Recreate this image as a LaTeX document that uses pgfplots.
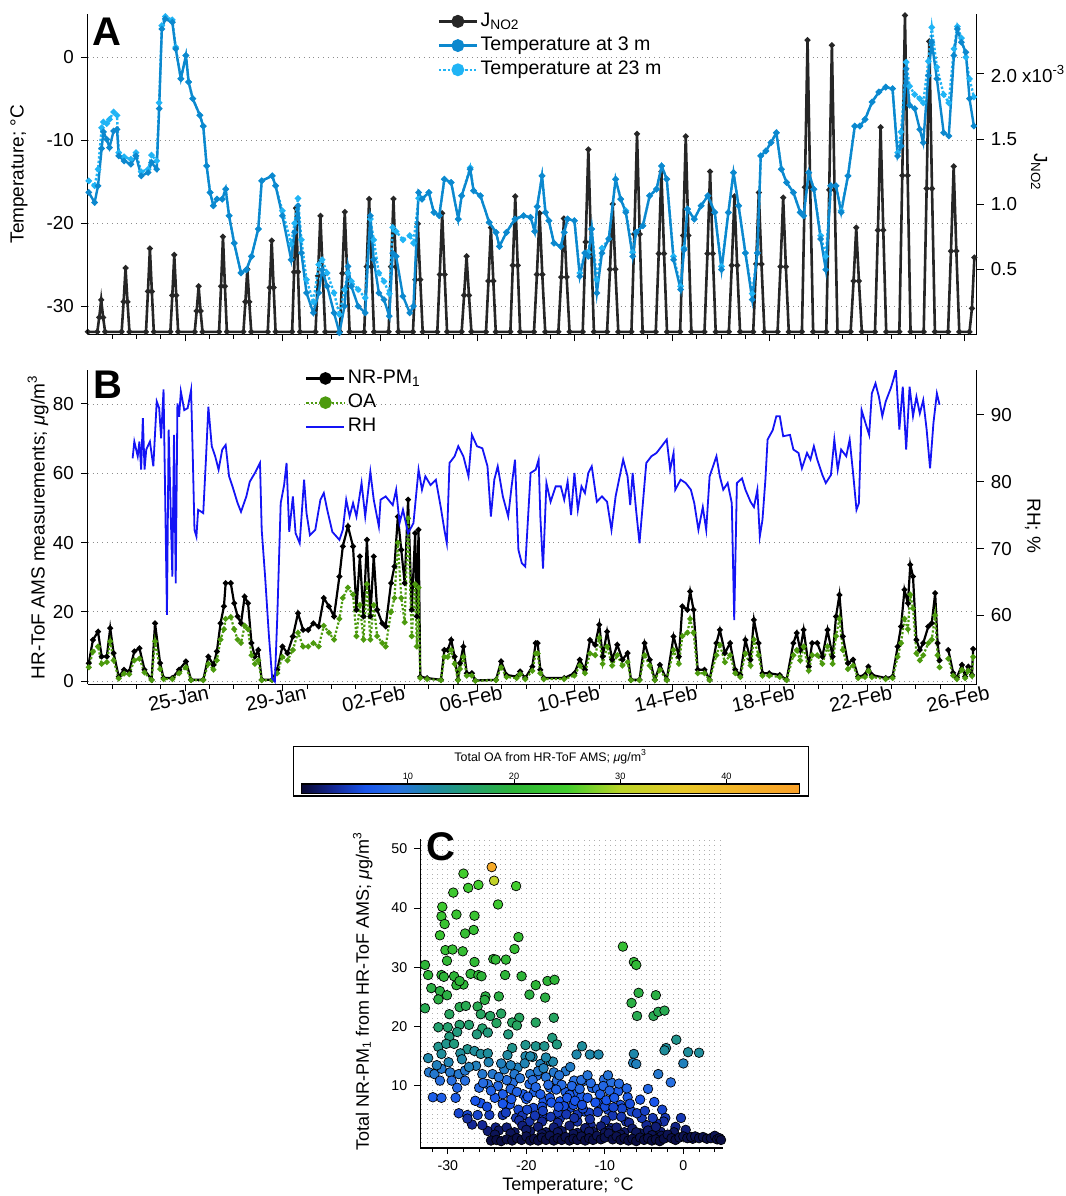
\documentclass[border=0pt]{standalone}
\usepackage{fontspec}
\setmainfont{Liberation Sans}
\usepackage{pgfplots}
\pgfplotsset{compat=1.18}

\definecolor{jcol}{RGB}{38,38,38}
\definecolor{t3col}{RGB}{12,136,206}
\definecolor{t23col}{RGB}{32,180,245}
\definecolor{oacol}{RGB}{76,154,14}
\definecolor{rhcol}{RGB}{20,20,245}
\definecolor{gridcol}{RGB}{140,140,140}
\definecolor{sgridcol}{RGB}{175,175,175}

\pgfplotsset{
  colormap={oa}{rgb255(0cm)=(8,8,50) rgb255(3cm)=(20,40,150) rgb255(6cm)=(25,85,235)
    rgb255(9cm)=(40,112,225) rgb255(12cm)=(30,135,170) rgb255(16cm)=(35,160,110)
    rgb255(20cm)=(45,180,55) rgb255(25cm)=(65,205,45) rgb255(30cm)=(185,212,40)
    rgb255(36cm)=(232,200,40) rgb255(41cm)=(242,180,40) rgb255(47cm)=(250,160,40)},
  panel/.style={scale only axis, width=444.5pt, xmin=0, xmax=36.5, anchor=south west,
    tick align=outside, major tick length=3.5pt, minor tick length=2.2pt,
    tick style={black, line width=0.5pt}, axis line style={-, line width=0.6pt},
    tick label style={font=\fontsize{9.4}{11}\selectfont},
    label style={font=\fontsize{9.5}{11}\selectfont},
    /pgf/number format/assume math mode=true},
  leg/.style={legend cell align=left,
    legend image code/.code={\draw[mark repeat=2,mark phase=2,##1] plot coordinates {(0pt,0pt) (9.5pt,0pt) (19pt,0pt)};},
    legend style={draw=none, fill=none, font=\fontsize{9.8}{11}\selectfont, row sep=0pt, inner sep=0pt,
      nodes={inner sep=1.2pt, text height=7.3pt, text depth=2.4pt}}},
  jstyle/.style={color=jcol, line width=1.3pt, mark=*, mark size=0.7pt},
  t3style/.style={color=t3col, line width=1.2pt, mark=*, mark size=0.9pt},
  t23style/.style={color=t23col, line width=1.2pt, densely dotted, mark=*, mark size=0.9pt, mark options={solid}},
  pmstyle/.style={color=black, line width=1.1pt, mark=*, mark size=0.8pt},
  oastyle/.style={color=oacol, line width=1.1pt, densely dotted, mark=*, mark size=0.8pt, mark options={solid}},
  rhstyle/.style={color=rhcol, line width=0.9pt},
}

\begin{document}
\begin{tikzpicture}
\path[use as bounding box] (0,0) rectangle (533pt,-598pt);

% ---------------- panel A: grid
\begin{axis}[panel, at={(43.9pt,-167.2pt)}, height=160.2pt, ymin=-33.4, ymax=5.2,
  ytick={-30,-20,-10,0}, yticklabels={}, xtick=\empty, ymajorgrids,
  grid style={dotted, gridcol, line width=0.4pt}, axis line style={draw=none}, major tick length=0pt]
\addplot[draw=none] coordinates {(1,0)};
\end{axis}

% ---------------- panel A: J_NO2 (right axis)
\begin{axis}[panel, at={(43.9pt,-167.2pt)}, height=160.2pt, ymin=0, ymax=2.46,
  axis x line*=bottom, axis y line*=right,
  xtick={4,8,...,36}, xticklabels={}, minor xtick={1,...,36},
  ytick={0.5,1,1.5,2}, yticklabels={0.5,1.0,1.5,{2.0 x10\textsuperscript{-3}}},
  ylabel={J\textsubscript{NO2}},
  ylabel style={at={(axis description cs:1.070,0.507)}, anchor=center, rotate=180}]
\addplot[jstyle] coordinates {
(0,0.02) (0.39,0.02) (0.47,0.13) (0.55,0.265) (0.63,0.13) (0.71,0.02)
(1.39,0.02) (1.47,0.25) (1.55,0.51) (1.63,0.25) (1.71,0.02)
(2.39,0.02) (2.47,0.33) (2.55,0.66) (2.63,0.33) (2.71,0.02)
(3.39,0.02) (3.47,0.30) (3.55,0.61) (3.63,0.30) (3.71,0.02)
(4.39,0.02) (4.47,0.18) (4.55,0.37) (4.63,0.18) (4.71,0.02)
(5.39,0.02) (5.47,0.37) (5.55,0.75) (5.63,0.37) (5.71,0.02)
(6.39,0.02) (6.47,0.25) (6.55,0.50) (6.63,0.25) (6.71,0.02)
(7.39,0.02) (7.47,0.36) (7.55,0.72) (7.63,0.36) (7.71,0.02)
(8.39,0.02) (8.47,0.48) (8.55,0.97) (8.63,0.48) (8.71,0.02)
(9.35,0.02) (9.45,0.45) (9.55,0.91) (9.65,0.45) (9.75,0.02)
(10.35,0.02) (10.45,0.47) (10.55,0.94) (10.65,0.47) (10.75,0.02)
(11.35,0.02) (11.45,0.52) (11.55,1.04) (11.65,0.52) (11.75,0.02)
(12.35,0.02) (12.45,0.52) (12.55,1.04) (12.65,0.52) (12.75,0.02)
(13.35,0.02) (13.45,0.42) (13.55,0.85) (13.65,0.42) (13.75,0.02)
(14.35,0.02) (14.45,0.46) (14.55,0.93) (14.65,0.46) (14.75,0.02)
(15.35,0.02) (15.45,0.30) (15.55,0.60) (15.65,0.30) (15.75,0.02)
(16.35,0.02) (16.45,0.41) (16.55,0.82) (16.65,0.41) (16.75,0.02)
(17.35,0.02) (17.45,0.53) (17.55,1.06) (17.65,0.53) (17.75,0.02)
(18.32,0.02) (18.44,0.46) (18.55,0.93) (18.66,0.46) (18.78,0.02)
(19.32,0.02) (19.44,0.44) (19.55,0.89) (19.66,0.44) (19.78,0.02)
(20.32,0.02) (20.44,0.71) (20.55,1.42) (20.66,0.71) (20.78,0.02)
(21.32,0.02) (21.44,0.50) (21.55,1.00) (21.66,0.50) (21.78,0.02)
(22.32,0.02) (22.44,0.77) (22.55,1.54) (22.66,0.77) (22.78,0.02)
(23.32,0.02) (23.44,0.62) (23.55,1.25) (23.66,0.62) (23.78,0.02)
(24.32,0.02) (24.44,0.76) (24.55,1.52) (24.66,0.76) (24.78,0.02)
(25.32,0.02) (25.44,0.62) (25.55,1.25) (25.66,0.62) (25.78,0.02)
(26.32,0.02) (26.44,0.53) (26.55,1.06) (26.66,0.53) (26.78,0.02)
(27.32,0.02) (27.44,0.54) (27.55,1.09) (27.66,0.54) (27.78,0.02)
(28.32,0.02) (28.44,0.52) (28.55,1.05) (28.66,0.52) (28.78,0.02)
(29.32,0.02) (29.44,1.13) (29.55,2.26) (29.66,1.13) (29.78,0.02)
(30.32,0.02) (30.44,1.11) (30.55,2.22) (30.66,1.11) (30.78,0.02)
(31.32,0.02) (31.44,0.41) (31.55,0.82) (31.66,0.41) (31.78,0.02)
(32.32,0.02) (32.44,0.80) (32.55,1.59) (32.66,0.80) (32.78,0.02)
(33.32,0.02) (33.44,1.22) (33.55,2.45) (33.66,1.22) (33.78,0.02)
(34.32,0.02) (34.44,1.12) (34.55,2.25) (34.66,1.12) (34.78,0.02)
(35.32,0.02) (35.44,0.64) (35.55,1.29) (35.66,0.64) (35.78,0.02)
(36.2,0.02) (36.3,0.20) (36.4,0.59)
};
\end{axis}

% ---------------- panel A: temperatures (left axis)
\begin{axis}[panel, leg, at={(43.9pt,-167.2pt)}, height=160.2pt, ymin=-33.4, ymax=5.2,
  axis x line=none, axis y line*=left, ytick={-30,-20,-10,0},
  ylabel={Temperature; °C},
  ylabel style={at={(axis description cs:-0.0774,0.5)}, anchor=center},
  legend style={at={(axis description cs:0.393,1.016)}, anchor=north west}]
\addlegendimage{jstyle, mark size=2.6pt}
\addlegendentry{J\textsubscript{NO2}}
\addlegendimage{t3style, mark size=2.6pt}
\addlegendentry{Temperature at 3 m}
\addlegendimage{t23style, mark size=2.6pt}
\addlegendentry{Temperature at 23 m}
% Temperature at 23 m
\addplot[t23style, forget plot] coordinates {
(0.04,-14.9) (0.28,-15.5) (0.42,-13.5) (0.57,-8.5) (0.64,-7.8) (0.78,-8) (0.89,-7.5) (1.06,-6.6)
(1.2,-7) (1.27,-11.5) (1.49,-12) (1.77,-12.3) (1.98,-11.5) (2.19,-13.8) (2.48,-13.5) (2.62,-11.8)
(2.83,-12.5) (2.93,-5.5) (3.04,3.8) (3.18,4.9) (3.47,4.5) (3.61,1.2) (3.82,-2.6) (4.03,0.2)
(4.14,-3) (4.31,-5) (4.6,-7) (4.74,-8.3) (4.88,-13.1) (5.02,-16.3) (5.16,-17.9) (5.3,-17.1)
(5.52,-17.1) (5.66,-15.9) (5.8,-19.1) (6.01,-22.4) (6.29,-26) (6.51,-25.6) (6.72,-24) (7.0,-20.7)
(7.14,-14.9) (7.57,-14.3) (7.71,-15.5) (7.99,-18.5) (8.35,-22.5) (8.49,-20) (8.63,-17) (8.77,-22)
(8.98,-26.8) (9.26,-29.5) (9.48,-25) (9.62,-24.4) (9.83,-26) (10.11,-28.4) (10.33,-31) (10.54,-28)
(10.68,-26) (10.82,-27) (11.1,-28) (11.39,-29) (11.6,-19.5) (11.74,-22) (11.95,-26) (12.16,-27)
(12.38,-28.5) (12.52,-20.5) (12.66,-21) (12.94,-22) (13.22,-21.5) (13.37,-22.4) (13.58,-17) (13.72,-17.1)
(14.0,-16.3) (14.21,-18.7) (14.43,-19.1) (14.64,-14.7) (14.92,-15.1) (15.21,-19.5) (15.35,-16.7) (15.7,-13.3)
(15.84,-16.1) (16.12,-16.7) (16.48,-19.9) (16.76,-21.1) (16.9,-22.8) (17.19,-21.1) (17.54,-19.5) (17.89,-19.1)
(18.18,-19.3) (18.35,-21) (18.45,-18) (18.65,-14.3) (18.79,-18.7) (18.93,-19.7) (19.14,-22.4) (19.42,-22.8)
(19.56,-21.1) (19.7,-19.5) (19.98,-19.7) (20.2,-26) (20.41,-23.6) (20.55,-23.5) (20.69,-20.7) (20.9,-26.8)
(21.11,-23) (21.39,-21.9) (21.67,-14.7) (21.88,-17.1) (22.09,-18.5) (22.37,-23.5) (22.51,-21.1) (22.79,-20.3)
(23.07,-16.7) (23.35,-15.9) (23.56,-13.1) (23.77,-14.7) (24.05,-24) (24.34,-27.6) (24.48,-23) (24.62,-18.3)
(24.9,-19.5) (25.18,-17.9) (25.46,-16.7) (25.74,-18.7) (26.02,-25.2) (26.3,-18.7) (26.51,-13.9) (26.72,-17.9)
(27.0,-23.6) (27.28,-28.5) (27.49,-23.6) (27.63,-11.9) (27.84,-11.3) (28.05,-10.3) (28.27,-9.1) (28.48,-13.5)
(28.69,-15.1) (28.97,-16.3) (29.25,-18.7) (29.39,-19.1) (29.6,-13.9) (29.81,-15.9) (30.09,-21.5) (30.3,-24)
(30.51,-15.5) (30.72,-15.5) (30.93,-18.5) (31.21,-14.3) (31.49,-8.3) (31.7,-8.3) (31.91,-7.5) (32.2,-5.4)
(32.48,-4.2) (32.76,-3.6) (33.04,-3.8) (33.25,-11.5) (33.39,-9) (33.6,-0.6) (33.74,-3.5) (33.95,-4.5)
(34.16,-5) (34.3,-5.5) (34.51,-0.5) (34.65,3.6) (34.86,-1.2) (35.14,-4.5) (35.35,-5.5) (35.56,1)
(35.7,3.7) (35.87,2.3) (36.05,0) (36.2,-2.6) (36.38,-4.8)
};
% Temperature at 3 m
\addplot[t3style, forget plot] coordinates {
(0.04,-16.3) (0.28,-17.5) (0.42,-15.5) (0.57,-11) (0.64,-9) (0.78,-9.9) (0.89,-10.9) (1.06,-8.9)
(1.2,-8.7) (1.27,-11.9) (1.49,-12.5) (1.77,-12.9) (1.98,-11.9) (2.19,-14.3) (2.48,-13.9) (2.62,-12.7)
(2.83,-13.5) (2.93,-6.2) (3.04,3.4) (3.18,4.6) (3.47,4.2) (3.61,1) (3.82,-2.6) (4.03,0.2)
(4.14,-3) (4.31,-5) (4.6,-7) (4.74,-8.3) (4.88,-13.1) (5.02,-16.3) (5.16,-17.9) (5.3,-17.1)
(5.52,-17.1) (5.66,-15.9) (5.8,-19.1) (6.01,-22.4) (6.29,-26) (6.51,-25.6) (6.72,-24) (7.0,-20.7)
(7.14,-14.9) (7.57,-14.3) (7.71,-15.5) (7.99,-19.1) (8.35,-24.4) (8.49,-21.1) (8.63,-17.9) (8.77,-23.6)
(8.98,-28.4) (9.26,-30.8) (9.48,-28.4) (9.62,-25.6) (9.83,-27.6) (10.11,-30.8) (10.33,-33.2) (10.54,-30)
(10.68,-25.2) (10.82,-27.6) (11.1,-30) (11.39,-30.8) (11.6,-19.1) (11.74,-24.4) (11.95,-28.4) (12.16,-29.2)
(12.38,-31.2) (12.52,-23.6) (12.66,-24) (12.94,-28.8) (13.22,-30.8) (13.37,-30) (13.58,-16.3) (13.72,-17.1)
(14.0,-16.3) (14.21,-18.7) (14.43,-19.1) (14.64,-14.7) (14.92,-15.1) (15.21,-19.5) (15.35,-16.7) (15.7,-13.5)
(15.84,-16.1) (16.12,-16.7) (16.48,-19.9) (16.76,-21.1) (16.9,-22.8) (17.19,-21.1) (17.54,-19.5) (17.89,-19.1)
(18.18,-19.3) (18.35,-21) (18.45,-18) (18.65,-14.3) (18.79,-18.7) (18.93,-19.7) (19.14,-22.4) (19.42,-22.8)
(19.56,-21.1) (19.7,-19.5) (19.98,-19.7) (20.2,-26.4) (20.41,-23.6) (20.55,-24) (20.69,-20.7) (20.9,-28.4)
(21.11,-23.6) (21.39,-21.9) (21.67,-14.7) (21.88,-17.1) (22.09,-18.7) (22.37,-24) (22.51,-21.1) (22.79,-20.3)
(23.07,-16.7) (23.35,-15.9) (23.56,-13.1) (23.77,-14.7) (24.05,-24.4) (24.34,-28) (24.48,-23.2) (24.62,-18.3)
(24.9,-19.5) (25.18,-17.9) (25.46,-16.7) (25.74,-18.7) (26.02,-25.6) (26.3,-18.7) (26.51,-13.9) (26.72,-17.9)
(27.0,-23.6) (27.28,-29.2) (27.49,-23.6) (27.63,-11.9) (27.84,-11.3) (28.05,-10.3) (28.27,-9.1) (28.48,-13.5)
(28.69,-15.1) (28.97,-16.3) (29.25,-18.7) (29.39,-19.1) (29.6,-13.9) (29.81,-15.9) (30.09,-21.9) (30.3,-25.6)
(30.51,-15.5) (30.72,-15.5) (30.93,-18.7) (31.21,-14.3) (31.49,-8.3) (31.7,-8.3) (31.91,-7.5) (32.2,-5.4)
(32.48,-4.2) (32.76,-3.6) (33.04,-3.8) (33.25,-11.9) (33.39,-10.7) (33.6,-1.4) (33.74,-5.8) (33.95,-6.2)
(34.16,-8.7) (34.3,-10.3) (34.51,-2.2) (34.65,1.8) (34.86,-2.6) (35.14,-9.1) (35.35,-9.5) (35.56,0.2)
(35.7,3.4) (35.87,1.8) (36.05,0.6) (36.2,-5) (36.38,-8.3)
};
\end{axis}

% ---------------- panel B: aerosol (left axis)
\begin{axis}[panel, at={(43.9pt,-342.15pt)}, height=157.15pt, ymin=-0.9, ymax=89.8,
  axis x line*=bottom, axis y line*=left, unbounded coords=jump,
  xtick={4,8,...,36}, minor xtick={1,...,36},
  xticklabels={25-Jan,29-Jan,02-Feb,06-Feb,10-Feb,14-Feb,18-Feb,22-Feb,26-Feb},
  xticklabel style={rotate=12, anchor=north, inner sep=1pt, xshift=-4pt, yshift=2pt,
    font=\fontsize{10}{12}\selectfont},
  ytick={0,20,40,60,80}, ymajorgrids, grid style={dotted, gridcol, line width=0.4pt},
  ylabel={HR-ToF AMS measurements; \textit{μ}g/m\textsuperscript{3}},
  ylabel style={at={(axis description cs:-0.056,0.5)}, anchor=center}]
% NR-PM1
\addplot[pmstyle] coordinates {
(0.04,5.2) (0.21,11.9) (0.42,14.3) (0.57,7.1) (0.78,7.1) (0.92,15.3) (1.06,8.1) (1.27,1.3)
(1.49,3.3) (1.7,2.8) (1.91,8.6) (2.12,9.5) (2.33,3.3) (2.62,0.4) (2.76,16.7) (2.97,5.2)
(3.11,0.9) (3.47,0.9) (3.75,3.3) (4.03,5.7) (4.24,0.4) (4.74,0.4) (4.95,7.1) (5.16,4.7)
(5.3,8.6) (5.45,16.7) (5.59,21.6) (5.66,28.3) (5.87,28.3) (6.01,22.5) (6.15,18.7) (6.29,16.7)
(6.44,24.4) (6.58,22.5) (6.72,11) (6.86,7.1) (7.0,9) (7.14,0.4) (7.57,0.4) (7.78,3.3)
(7.99,10) (8.2,8.1) (8.42,12.9) (8.63,19.6) (8.84,14.8) (9.05,14.8) (9.26,16.7) (9.48,15.8)
(9.69,24) (9.9,21.6) (10.11,18.7) (10.33,30.2) (10.47,38.9) (10.68,44.7) (10.89,38.9) (11.03,20.6)
(11.17,36) (11.32,18.7) (11.46,40.8) (11.6,18.7) (11.74,36) (11.88,20.6) (12.09,16.7) (12.23,15.8)
(12.45,28.3) (12.59,33.1) (12.73,47.5) (12.87,37.9) (13.01,28.3) (13.15,52.4) (13.3,20.6) (13.44,42.7)
(13.51,18.7) (13.58,43.7) (13.65,1.3) (13.93,0.9) (14.5,0.4) (14.64,9) (14.78,9) (14.92,11.9)
(15.06,7.1) (15.2,0.4) (15.28,5.2) (15.42,10) (15.56,2.3) (15.77,2.3) (15.91,0.2) (16.76,0.4)
(16.97,5.7) (17.19,1.8) (17.61,1.3) (17.75,2.8) (17.96,0.9) (18.25,4.2) (18.39,11) (18.47,11)
(18.58,3.3) (18.72,0.9) (19.56,0.9) (19.98,2.3) (20.2,6.2) (20.41,3.3) (20.62,11.9) (20.83,10.5)
(21.0,16.3) (21.14,7.1) (21.32,14.3) (21.53,6.2) (21.74,10.5) (21.95,6.2) (22.16,8.1) (22.3,0.4)
(22.65,0.4) (22.86,11) (23.07,6.2) (23.28,0.4) (23.49,4.7) (23.77,0.4) (24.05,12.9) (24.27,7.1)
(24.41,21.6) (24.62,20.6) (24.73,25.9) (24.87,20.6) (25.04,3.3) (25.32,3.3) (25.53,0.4) (25.81,11)
(25.95,14.8) (26.16,8.1) (26.37,11) (26.58,3.3) (26.79,1.8) (27.0,11.9) (27.21,6.2) (27.35,17.7)
(27.54,11) (27.7,2.3) (27.98,2.3) (28.41,1.8) (28.69,0.4) (28.97,11) (29.11,13.9) (29.25,9)
(29.39,14.8) (29.6,4.2) (29.74,11) (29.95,11) (30.16,7.1) (30.37,14.8) (30.58,7.1) (30.72,18.7)
(30.86,24.9) (31.0,12.9) (31.21,5.2) (31.42,6.2) (31.63,1.3) (31.91,1.8) (32.05,4.2) (32.19,1.8)
(32.76,0.9) (33.04,1.3) (33.25,10) (33.39,15.8) (33.53,26.4) (33.67,22.5) (33.77,33.6) (33.88,30.2)
(34.02,11.9) (34.16,9) (34.3,11) (34.51,15.8) (34.65,16.7) (34.79,25.4) (34.89,11) (34.97,6)
(35.15,nan) (35.33,9) (35.53,2.4) (35.68,1) (35.89,4.7) (36.02,1.3) (36.15,4.2) (36.3,1.8) (36.35,9.3)
};
% OA
\addplot[oastyle] coordinates {
(0.04,4) (0.21,8.5) (0.42,10) (0.57,5) (0.78,5.5) (0.92,11.5) (1.06,6) (1.27,0.8)
(1.49,2.2) (1.7,2) (1.91,6) (2.12,6.5) (2.33,2.5) (2.62,0.3) (2.76,11.5) (2.97,3.5)
(3.11,0.6) (3.47,0.6) (3.75,2.3) (4.03,4) (4.24,0.3) (4.74,0.3) (4.95,5) (5.16,3.3)
(5.3,6) (5.45,12) (5.59,15) (5.66,18) (5.87,18.5) (6.01,15) (6.15,12) (6.29,11)
(6.44,16) (6.58,15) (6.72,7.5) (6.86,5) (7.0,6) (7.14,0.3) (7.57,0.3) (7.78,2.3)
(7.99,7) (8.2,6) (8.42,9) (8.63,14) (8.84,10) (9.05,10) (9.26,11) (9.48,10)
(9.69,16) (9.9,14) (10.11,12) (10.33,18) (10.47,24) (10.68,27) (10.89,25) (11.03,13)
(11.17,22) (11.32,12) (11.46,28) (11.6,12) (11.74,22) (11.88,13) (12.09,11) (12.23,10)
(12.45,20) (12.59,24) (12.73,40) (12.87,24) (13.01,17) (13.15,47) (13.3,13) (13.44,28)
(13.51,10) (13.58,27) (13.65,0.9) (13.93,0.6) (14.5,0.3) (14.64,7) (14.78,7) (14.92,9)
(15.06,5) (15.2,0.3) (15.28,3.5) (15.42,7) (15.56,1.6) (15.77,1.6) (15.91,0.1) (16.76,0.3)
(16.97,4) (17.19,1.2) (17.61,0.9) (17.75,2) (17.96,0.6) (18.25,3) (18.39,8) (18.47,8)
(18.58,2.3) (18.72,0.6) (19.56,0.6) (19.98,1.6) (20.2,4.5) (20.41,2.3) (20.62,8) (20.83,7.5)
(21.0,12.5) (21.14,5) (21.32,10) (21.53,4.5) (21.74,7.5) (21.95,4.5) (22.16,5.5) (22.3,0.3)
(22.65,0.3) (22.86,7.5) (23.07,4.5) (23.28,0.3) (23.49,3.3) (23.77,0.3) (24.05,9) (24.27,5)
(24.41,13) (24.62,14) (24.73,18) (24.87,14) (25.04,2.3) (25.32,2.3) (25.53,0.3) (25.81,7.5)
(25.95,10.5) (26.16,5.5) (26.37,7.5) (26.58,2.3) (26.79,1.2) (27.0,8) (27.21,4.5) (27.35,12)
(27.54,7.5) (27.7,1.6) (27.98,1.6) (28.41,1.2) (28.69,0.3) (28.97,7.5) (29.11,9) (29.25,6)
(29.39,10) (29.6,3) (29.74,7.5) (29.95,7.5) (30.16,5) (30.37,10) (30.58,5) (30.72,13)
(30.86,18) (31.0,9) (31.21,3.5) (31.42,4.5) (31.63,0.9) (31.91,1.2) (32.05,3) (32.19,1.2)
(32.76,0.6) (33.04,0.9) (33.25,7) (33.39,11) (33.53,18) (33.67,15) (33.77,25) (33.88,21)
(34.02,8) (34.16,6) (34.3,7.5) (34.51,11) (34.65,12) (34.79,19) (34.89,7.5) (34.97,4)
(35.15,nan) (35.33,6.5) (35.53,1.6) (35.68,0.6) (35.89,3.3) (36.02,0.9) (36.15,3) (36.3,1.5) (36.35,7)
};
\end{axis}

% ---------------- panel B: RH (right axis)
\begin{axis}[panel, leg, at={(43.9pt,-342.15pt)}, height=157.15pt, ymin=49.7, ymax=96.7,
  axis x line=none, axis y line*=right, ytick={60,70,80,90},
  ylabel={RH; \%},
  ylabel style={at={(axis description cs:1.063,0.504)}, anchor=center, rotate=180},
  legend style={at={(axis description cs:0.2443,1.013)}, anchor=north west}]
\addlegendimage{pmstyle, mark size=2.6pt}
\addlegendentry{NR-PM\textsubscript{1}}
\addlegendimage{oastyle, mark size=2.6pt}
\addlegendentry{OA}
\addlegendimage{rhstyle}
\addlegendentry{RH}
\addplot[rhstyle, forget plot] coordinates {
(1.84,83.5) (1.91,86) (2.05,83.8) (2.12,86) (2.19,81.8) (2.26,89.5) (2.33,81.8) (2.4,84.8)
(2.55,86) (2.69,82.3) (2.83,92) (2.93,91) (3.01,86.5) (3.11,93.8) (3.25,60.1) (3.32,87.8)
(3.47,65.8) (3.54,87) (3.61,64.8) (3.68,91.7) (3.75,89.7) (3.82,93.5) (3.96,90.7) (4.1,91)
(4.24,93.7) (4.31,83.8) (4.38,72.8) (4.46,71.8) (4.53,75.8) (4.74,75.3) (4.85,83.3) (4.95,91.2)
(5.09,85.3) (5.23,83.8) (5.37,81.8) (5.52,84.8) (5.66,85.5) (5.8,80.8) (5.94,79.3) (6.15,76.8)
(6.29,75.5) (6.51,77.8) (6.65,80) (6.86,81.3) (7.07,82.8) (7.14,72.8) (7.28,65.8) (7.43,57.3)
(7.57,50.6) (7.68,50.1) (7.78,59.8) (7.92,76.8) (8.06,79.5) (8.16,82.8) (8.27,72.5) (8.42,77.8)
(8.53,72.3) (8.7,70.8) (8.88,80.3) (8.98,75.3) (9.12,72) (9.34,72.8) (9.55,77.3) (9.69,78.3)
(9.83,75.8) (10.04,72.5) (10.33,71.3) (10.47,72.8) (10.61,77.3) (10.75,74.8) (10.89,76.8) (11.03,74.8)
(11.24,79.8) (11.39,74.8) (11.6,81.5) (11.74,77.3) (11.95,73.3) (12.02,77.3) (12.23,77.8) (12.52,76.5)
(12.66,78.8) (12.8,73.8) (12.94,75.8) (13.15,72.3) (13.37,73.8) (13.58,81.8) (13.72,78.8) (13.86,80.8)
(14.07,79.5) (14.29,80.3) (14.5,76) (14.64,72.8) (14.74,70.8) (14.85,82.8) (15.06,83.8) (15.21,85.3)
(15.42,83.8) (15.63,80.8) (15.77,87) (15.98,85.3) (16.2,85) (16.41,82.3) (16.55,74.8) (16.69,80.3)
(16.83,82.3) (17.04,77.8) (17.26,74.8) (17.4,79.3) (17.54,83.3) (17.68,69.8) (17.82,67.8) (17.96,67.3)
(18.18,81.3) (18.39,81.8) (18.51,83.3) (18.58,74.8) (18.69,67) (18.83,79.8) (19.0,77) (19.21,79.3)
(19.42,79.3) (19.56,77.3) (19.7,80) (19.84,75) (19.98,81.3) (20.12,75.8) (20.27,79.3) (20.41,78.3)
(20.55,81.3) (20.69,82.3) (20.9,77) (21.11,77.8) (21.32,77) (21.5,72.8) (21.67,77.8) (21.81,80.3)
(21.98,83.3) (22.16,80.8) (22.27,76.5) (22.37,81.3) (22.51,75.8) (22.65,70.8) (22.79,76.8) (22.93,82.8)
(23.14,83.8) (23.35,84.3) (23.56,85.3) (23.77,86.3) (23.91,81.8) (24.05,84.3) (24.12,78.8) (24.34,80.3)
(24.55,79.8) (24.76,78.8) (24.9,76.8) (25.07,72.8) (25.25,76.2) (25.39,72.8) (25.53,80.8) (25.81,83.8)
(25.95,80.8) (26.09,78.8) (26.27,79.8) (26.44,76.8) (26.54,59.3) (26.65,79.8) (26.86,80.5) (27.0,78.8)
(27.21,77) (27.35,76.2) (27.49,78.8) (27.59,71.8) (27.7,74.3) (27.82,80.3) (27.91,86.3) (28.12,87.7)
(28.27,89.8) (28.41,89.8) (28.55,86.8) (28.83,87) (28.97,84.8) (29.18,84.3) (29.32,82) (29.53,84.3)
(29.67,83.3) (29.81,85.3) (29.95,83.3) (30.16,81) (30.3,79.8) (30.51,81) (30.65,86.3) (30.79,81.8)
(30.93,84.8) (31.14,83.8) (31.28,86.3) (31.42,81.3) (31.56,75.8) (31.66,76.8) (31.77,90.7) (31.91,89)
(32.08,87) (32.19,93.2) (32.34,94.7) (32.48,92.7) (32.62,89.8) (32.76,92) (32.97,94) (33.07,95.2)
(33.18,96.7) (33.32,87.8) (33.46,94.2) (33.6,84.8) (33.74,94.2) (33.88,89.8) (34.02,92.7) (34.16,90.2)
(34.3,92.2) (34.44,87.8) (34.58,82) (34.72,88.8) (34.86,93.2) (34.97,91.5)
};
\end{axis}

% ---------------- colour bar
\begin{axis}[at={(275.35pt,-394.45pt)}, anchor=center, scale only axis, width=10pt, height=10pt,
  hide axis, xmin=0, xmax=1, ymin=0, ymax=1, colormap name=oa,
  point meta min=0, point meta max=46.9, colorbar horizontal,
  colorbar shift/.style={},
  colorbar style={at={(parent axis.center)}, anchor=center, width=249pt, height=4.9pt,
    xtick={10,20,30,40}, xticklabel pos=upper, xtick pos=upper, tick align=outside,
    major tick length=2.5pt, xtick style={black, line width=0.5pt},
    tick label style={font=\fontsize{4.6}{5}\selectfont, inner sep=0.5pt, yshift=-1pt},
    /pgf/number format/assume math mode=true,
    axis line style={line width=0.6pt},
    title={Total OA from HR-ToF AMS; \textit{μ}g/m\textsuperscript{3}},
    title style={font=\fontsize{6.2}{7}\selectfont, at={(0.5,1)}, anchor=base, yshift=5.5pt}}]
\addplot[draw=none] coordinates {(0.5,0.5)};
\end{axis}
\draw[line width=0.6pt] (146.9pt,-373.25pt) rectangle (404.3pt,-398pt);

% ---------------- panel C: scatter
\begin{axis}[scale only axis, at={(210.15pt,-574pt)}, anchor=south west, width=151.35pt, height=154.7pt,
  xmin=-33.5, xmax=5.05, ymin=-0.46, ymax=51.7,
  axis x line*=bottom, axis y line*=left, axis line style={-, line width=0.6pt},
  tick align=outside, major tick length=3pt, tick style={black, line width=0.5pt},
  xtick={-30,-20,-10,0}, ytick={10,20,30,40,50},
  minor xtick={-33.3333,-32.6667,...,5}, minor tick length=0pt,
  xminorgrids, xmajorgrids, grid style={dotted, sgridcol, line width=0.3pt},
  extra x ticks={-32,-28,-26,-24,-22,-18,-16,-14,-12,-8,-6,-4,-2,2,4},
  extra x tick labels={}, extra x tick style={major tick length=2pt, grid=none},
  tick label style={font=\fontsize{7.1}{8.5}\selectfont},
  /pgf/number format/assume math mode=true,
  label style={font=\fontsize{9}{11}\selectfont},
  xlabel={Temperature; °C},
  xlabel style={at={(axis description cs:0.488,-0.123)}, anchor=center},
  ylabel={Total NR-PM\textsubscript{1} from HR-ToF AMS; \textit{μ}g/m\textsuperscript{3}},
  ylabel style={at={(axis description cs:-0.19,0.507)}, anchor=center},
  colormap name=oa, point meta min=0, point meta max=46.9]
\addplot[scatter, only marks, mark=*, mark size=2.4pt, point meta=explicit,
  mark options={line width=0.35pt},
  scatter/use mapped color={draw=black, fill=mapped color}] coordinates {
(-24.4,46.9) [44] (-28.0,45.8) [25] (-24.1,44.6) [31] (-26.1,43.9) [25] (-27.4,43.4) [24]
(-21.3,43.7) [25] (-29.3,42.6) [24] (-23.6,40.6) [24] (-30.7,40.2) [24] (-30.8,38.6) [23]
(-28.9,38.9) [23] (-26.6,38.7) [23] (-30.4,37.3) [23] (-26.7,36.3) [22] (-31.0,35.4) [23]
(-27.8,35.7) [22] (-21.0,35.1) [22] (-21.5,33.1) [22] (-30.3,32.9) [22] (-29.4,33.0) [22]
(-28.1,32.7) [22] (-7.7,33.5) [22] (-24.2,31.4) [21] (-23.9,31.3) [21] (-22.6,31.3) [21]
(-30.1,31.1) [21] (-32.9,30.4) [20] (-6.3,30.9) [21] (-6.0,30.4) [21] (-26.6,30.9) [21]
(-32.5,28.7) [20] (-30.8,28.7) [20] (-30.5,28.4) [20] (-29.2,28.5) [20] (-27.1,28.9) [20]
(-26.1,28.7) [20] (-25.7,28.5) [20] (-22.7,28.7) [20] (-20.6,28.5) [20] (-28.0,27.1) [20]
(-28.9,27.0) [20] (-28.5,27.7) [20] (-18.8,27.0) [20] (-17.3,27.7) [20] (-16.4,27.9) [20]
(-17.6,24.9) [19] (-19.6,25.4) [19] (-32.1,26.5) [19] (-31.0,26.0) [19] (-30.1,25.3) [19]
(-31.2,24.6) [19] (-25.2,25.1) [19] (-25.3,24.5) [19] (-23.5,25.1) [19] (-32.9,23.1) [18]
(-28.5,23.3) [18] (-27.7,23.5) [18] (-26.2,23.4) [18] (-6.6,24.0) [19] (-5.7,25.7) [19]
(-3.5,25.3) [19] (-5.9,21.8) [18] (-3.8,21.8) [18] (-3.2,22.5) [18] (-2.4,22.7) [18]
(-29.8,22.1) [17] (-25.8,22.1) [17] (-24.6,21.8) [17] (-23.2,22.2) [17] (-20.9,21.5) [17]
(-16.5,21.5) [17] (-23.8,20.6) [17] (-21.8,20.7) [17] (-21.2,20.2) [17] (-18.8,20.7) [17]
(-31.2,19.9) [16] (-30.0,19.9) [16] (-28.5,20.3) [16] (-27.3,20.3) [16] (-25.6,19.7) [16]
(-22.3,18.7) [15] (-29.8,18.3) [15] (-28.8,19.1) [15] (-26.3,18.7) [15] (-24.9,19.0) [15]
(-16.7,18.1) [15] (-16.1,17.0) [15] (-20.1,16.9) [14] (-18.8,16.7) [14] (-17.7,16.7) [14]
(-31.2,16.6) [14] (-30.2,17.1) [14] (-29.2,17.1) [15] (-27.5,16.2) [14] (-26.6,15.9) [13]
(-25.8,15.4) [13] (-24.9,15.5) [13] (-32.5,14.7) [12] (-30.8,15.4) [13] (-28.4,15.5) [13]
(-21.8,16.4) [14] (-20.1,15.0) [12] (-19.2,14.9) [12] (-16.9,14.1) [12] (-16.6,14.1) [12]
(-18.2,13.7) [11] (-13.6,15.3) [12] (-12.9,16.7) [13] (-11.9,15.3) [12] (-10.8,15.3) [12]
(-6.3,15.4) [12] (-6.4,13.9) [11] (-6.0,13.7) [11] (-2.2,16.4) [13] (-2.4,16.0) [13]
(-0.9,17.8) [14] (0.6,15.7) [13] (2.0,15.6) [13] (0.0,13.8) [11] (-3.2,12.0) [10]
(-1.6,10.6) [9] (-4.5,9.5) [8] (-3.7,7.3) [6] (-32.4,12.3) [10] (-31.7,12.0) [10]
(-30.8,12.9) [10] (-29.7,12.3) [10] (-28.6,12.0) [10] (-27.8,12.6) [10] (-31.0,10.9) [9]
(-29.5,10.9) [9] (-28.8,9.7) [8] (-27.8,10.9) [9] (-31.9,8.1) [7] (-30.8,8.0) [7]
(-29.0,8.0) [7] (-28.6,5.4) [5] (-27.5,5.1) [5] (-26.9,3.5) [3] (-26.2,5.1) [5]
(-26.0,9.7) [8] (-25.6,12.0) [10] (-24.9,10.3) [9] (-24.3,12.0) [10] (-23.6,10.0) [8]
(-25.8,7.1) [6] (-24.9,2.4) [2] (-23.9,3.0) [2.5] (-23.0,5.1) [4] (-22.1,6.9) [6]
(-23.0,8.6) [7] (-21.7,10.6) [9] (-21.1,13.1) [11] (-19.6,10.3) [8] (-18.7,11.7) [9]
(-20.4,8.6) [7] (-19.1,6.3) [5] (-17.8,7.4) [6] (-17.0,9.7) [8] (-15.7,7.4) [6]
(-16.1,10.9) [9] (-15.0,12.5) [10] (-13.9,10.9) [9] (-12.6,10.9) [9] (-11.6,9.7) [8]
(-10.1,11.1) [9] (-9.2,10.6) [9] (-8.3,9.1) [7] (-7.1,8.1) [7] (-5.5,7.7) [6]
(-10.9,7.1) [6] (-13.5,8.9) [7] (-14.4,6.3) [5] (-12.6,5.7) [5] (-9.6,6.0) [5]
(-6.6,5.7) [5] (-2.7,6.0) [5] (-0.3,4.6) [4] (-2.3,4.6) [4] (-2.5,4.0) [3.5]
(-4.7,3.4) [3] (-5.3,4.6) [4] (-7.3,4.0) [3.5] (-9.2,2.9) [2.5] (-11.8,3.4) [3]
(-13.5,4.0) [3.5] (-15.7,4.6) [4] (-17.8,4.6) [4] (-19.6,4.0) [3.5] (-21.3,4.6) [4]
(-25.6,3.4) [3] (-24.7,5.1) [4.5] (-1.0,3.1) [2.5] (0.3,2.6) [2] (-2.9,2.3) [2]
(-3.4,3.7) [3] (-23,7) [6] (-22,9.5) [8] (-21,6) [5] (-20,7.8) [6.5]
(-19,9) [7.5] (-18,6.5) [5.5] (-17,8) [6.5] (-16,5.5) [4.5] (-15,9) [7.5]
(-14,6.8) [5.5] (-13,8.2) [7] (-12,5.5) [4.5] (-11,9.5) [8] (-10,6.5) [5.5]
(-9,5) [4] (-8,6.8) [5.5] (-19.5,12) [10] (-18.5,12.5) [10] (-17.5,11.5) [9.5]
(-16.5,12.3) [10] (-15.5,10.2) [8.5] (-14.5,8.5) [7] (-13,11) [9] (-21.5,12) [10]
(-22.5,11) [9] (-24,8) [6.5] (-25,6.5) [5.5] (-26.5,7.5) [6] (-27.5,4.5) [3.5]
(-20.5,5) [4] (-18,4) [3] (-16,3.8) [3] (-13.5,5.2) [4]
(-25.5,10.5) [8.5] (-24.5,9.2) [7.5] (-23.5,11.5) [9.5] (-22.8,12.8) [10.5] (-22,13.5) [11]
(-21.2,9) [7.5] (-20.8,11.3) [9.5] (-20.2,13.8) [11.5] (-19.8,8.2) [6.5] (-19.2,11) [9]
(-18.8,9.8) [8] (-18.2,8.6) [7] (-17.8,13) [11] (-17.2,10.2) [8.5] (-16.8,7.2) [6]
(-16.2,9.4) [7.5] (-15.8,11.8) [9.5] (-15.2,6.6) [5.5] (-14.8,8) [6.5] (-14.2,10) [8]
(-13.8,7.5) [6] (-13.2,9.5) [8] (-12.8,6.2) [5] (-12.2,8) [6.5] (-11.8,10.5) [8.5]
(-11.2,7.2) [6] (-10.6,8.6) [7] (-10.2,10) [8] (-9.8,7.6) [6] (-9.4,9.2) [7.5]
(-8.8,8) [6.5] (-8.2,10.4) [8.5] (-7.8,6.2) [5] (-7.2,9.6) [8] (-6.8,7) [5.5]
(-22.6,5.5) [4.5] (-21.9,7.8) [6.5] (-20.9,4.2) [3.5] (-19.9,6) [5] (-18.9,5) [4]
(-17.9,5.8) [4.5] (-16.9,4.8) [4] (-15.9,6.5) [5.5] (-14.9,5.2) [4] (-13.9,4.6) [3.5]
(-12.9,6.8) [5.5] (-11.9,4.4) [3.5] (-10.9,5.6) [4.5] (-9.9,4.2) [3.5] (-8.9,6.4) [5]
(-7.9,4.8) [4] (-6.9,3.8) [3] (-5.9,5.4) [4.5] (-4.9,5.8) [4.5] (-3.9,4.6) [4]
(-24.8,14) [11.5] (-23.2,13.8) [11] (-22.4,15.2) [12.5] (-19.5,15) [12] (-17.5,14.8) [12]
(-14.4,13.2) [10.5] (-12.2,11.8) [9.5] (-9.6,11.8) [9.5] (-26.4,13.4) [11] (-27.3,13.2) [11]
(-29.9,14) [11.5] (-31.4,13.5) [11] (-28.2,14.5) [12]
(-23.5,2.5) [1.5] (-22.5,3.0) [2] (-21.5,2.2) [1.4] (-20.5,3.3) [2.2] (-19.5,2.4) [1.5]
(-18.5,3.1) [2] (-17.5,2.2) [1.3] (-16.5,3.0) [2] (-15.5,2.4) [1.5] (-14.5,3.3) [2.2]
(-13.5,2.1) [1.3] (-12.5,2.9) [1.8] (-11.5,2.3) [1.4] (-10.5,3.2) [2] (-9.5,2.5) [1.5]
(-8.5,3.0) [2] (-7.5,2.2) [1.4] (-6.5,2.8) [1.8] (-5.5,2.0) [1.3] (-4.5,2.5) [1.6]
(-3.5,3.1) [2]
(-24,1.8) [1.1] (-22,2) [1.2] (-20,2.6) [1.6] (-18,1.9) [1.1] (-16,2.2) [1.3]
(-14,1.9) [1.1] (-12,2.3) [1.4] (-10,2.1) [1.2] (-8,1.8) [1.1] (-6,2.2) [1.3]
(-4,1.7) [1] (-2.8,1.6) [1] (-1.2,2.2) [1.3] (1.2,1.1) [0.6]
(-24.5,0.8) [0.5] (-23.8,0.9) [0.5] (-23.2,0.7) [0.5] (-22.5,1.0) [0.6] (-21.8,0.8) [0.5]
(-21.2,1.2) [0.7] (-20.6,0.9) [0.5] (-20.0,1.5) [0.9] (-19.5,0.8) [0.5] (-19.0,1.1) [0.7]
(-18.5,0.8) [0.5] (-18.0,1.3) [0.8] (-17.5,0.9) [0.5] (-17.0,1.6) [1] (-16.5,0.8) [0.5]
(-16.0,1.2) [0.7] (-15.5,0.9) [0.5] (-15.0,1.4) [0.8] (-14.5,0.8) [0.5] (-14.0,1.1) [0.7]
(-13.5,0.9) [0.5] (-13.0,1.5) [0.9] (-12.5,0.8) [0.5] (-12.0,1.2) [0.7] (-11.5,0.9) [0.6]
(-11.0,1.6) [1] (-10.5,1.0) [0.6] (-10.0,1.3) [0.8] (-9.5,2.0) [1.2] (-9.0,1.0) [0.6]
(-8.5,1.5) [0.9] (-8.0,0.9) [0.5] (-7.5,1.2) [0.7] (-7.0,0.8) [0.5] (-6.5,1.1) [0.6]
(-6.0,0.7) [0.4] (-5.5,1.3) [0.8] (-5.0,0.9) [0.5] (-4.5,1.2) [0.7] (-4.0,0.8) [0.5]
(-3.5,1.0) [0.6] (-3.0,0.7) [0.4] (-2.5,1.1) [0.6] (-2.0,1.8) [1] (-1.5,1.2) [0.7]
(-1.0,0.9) [0.5] (-0.5,1.3) [0.8] (0.0,1.5) [0.9] (0.5,1.2) [0.7] (1.0,1.4) [0.8]
(1.5,1.5) [0.9] (2.0,1.2) [0.7] (2.5,1.4) [0.8] (3.0,1.1) [0.6] (3.5,1.2) [0.7]
(4.0,1.6) [1] (4.3,1.0) [0.6] (4.6,1.2) [0.7] (4.8,0.9) [0.5]
};
\end{axis}

% panel letters
\node[font=\fontsize{20}{24}\selectfont\bfseries] at (53.25pt,-16.1pt) {A};
\node[font=\fontsize{20}{24}\selectfont\bfseries] at (54pt,-192.5pt) {B};
\node[font=\fontsize{20}{24}\selectfont\bfseries] at (220.25pt,-423.5pt) {C};
\end{tikzpicture}
\end{document}
